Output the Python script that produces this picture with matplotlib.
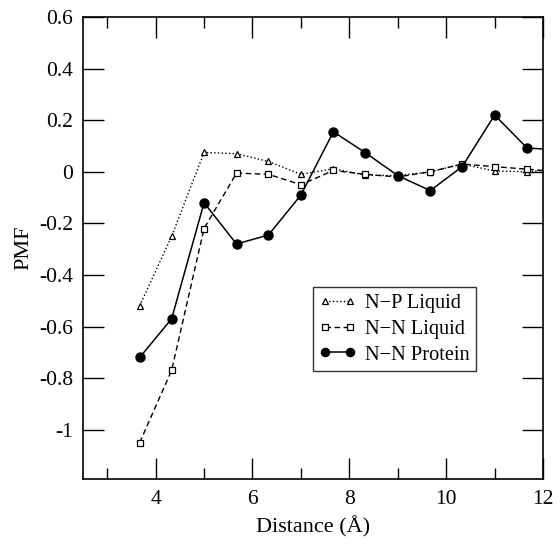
import numpy as np
import matplotlib.pyplot as plt
from matplotlib.ticker import MultipleLocator, FixedLocator

dist = [3.67, 4.33, 5.0, 5.67, 6.33, 7.0, 7.67, 8.33, 9.0, 9.67, 10.33, 11.0, 11.67, 12.33]
np_liquid = [-0.52, -0.25, 0.075, 0.07, 0.04, -0.01, 0.012, -0.013, -0.015, 0.0, 0.03, 0.003, 0.0, 0.01]
nn_liquid = [-1.05, -0.77, -0.22, -0.005, -0.01, -0.05, 0.005, -0.01, -0.02, 0.0, 0.03, 0.02, 0.01, 0.0]
nn_protein = [-0.72, -0.57, -0.12, -0.28, -0.245, -0.09, 0.155, 0.074, -0.015, -0.073, 0.02, 0.22, 0.092, 0.085]

yticks = [0.6, 0.4, 0.2, 0, -0.2, -0.4, -0.6, -0.8, -1]
ytick_labels = ["0.6", "0.4", "0.2", "0", "-0.2", "-0.4", "-0.6", "-0.8", "-1"]

plt.rcParams['font.family'] = ['Liberation Serif', 'DejaVu Serif']

fig = plt.figure(figsize=(5.57, 5.49), dpi=100)
ax = fig.add_axes([0.149, 0.128, 0.826, 0.841])

ax.plot(dist, np_liquid, color='black', linestyle=':', linewidth=1.0,
        marker='^', markersize=5, markerfacecolor='white', markeredgecolor='black',
        markeredgewidth=0.9, label='N\u2212P Liquid')
ax.plot(dist, nn_liquid, color='black', linestyle=(0, (4, 2.5)), linewidth=1.0,
        marker='s', markersize=4.5, markerfacecolor='white', markeredgecolor='black',
        markeredgewidth=0.9, label='N\u2212N Liquid')
ax.plot(dist, nn_protein, color='black', linestyle='-', linewidth=1.1,
        marker='o', markersize=6.5, markerfacecolor='black', markeredgecolor='black',
        label='N\u2212N Protein')

ax.set_xlim(2.5, 12)
ax.set_ylim(-1.19, 0.6)
ax.set_xticks([4, 6, 8, 10, 12])
ax.xaxis.set_minor_locator(MultipleLocator(1))
ax.yaxis.set_major_locator(FixedLocator(yticks))
ax.set_yticklabels(ytick_labels)

ax.tick_params(which='both', direction='in', top=True, right=True, labelsize=15.5, width=1.0)
ax.tick_params(which='major', length=15)
ax.tick_params(axis='y', which='major', pad=7)
ax.tick_params(axis='x', which='major', pad=8)
ax.tick_params(which='minor', length=8)
for s in ax.spines.values():
    s.set_linewidth(1.2)

ax.set_xlabel('Distance (\u00c5)', fontsize=16, labelpad=5)
ax.set_ylabel('PMF', fontsize=16, labelpad=4)

leg = ax.legend(loc='lower left', bbox_to_anchor=(0.5, 0.234), fontsize=14.7,
                numpoints=2, markerscale=0.9, frameon=True, fancybox=False,
                edgecolor='black', handlelength=1.8, handletextpad=0.45,
                borderpad=0.3, labelspacing=0.32, borderaxespad=0)
leg.get_frame().set_linewidth(1.0)

fig.savefig('out.png', dpi=100)
